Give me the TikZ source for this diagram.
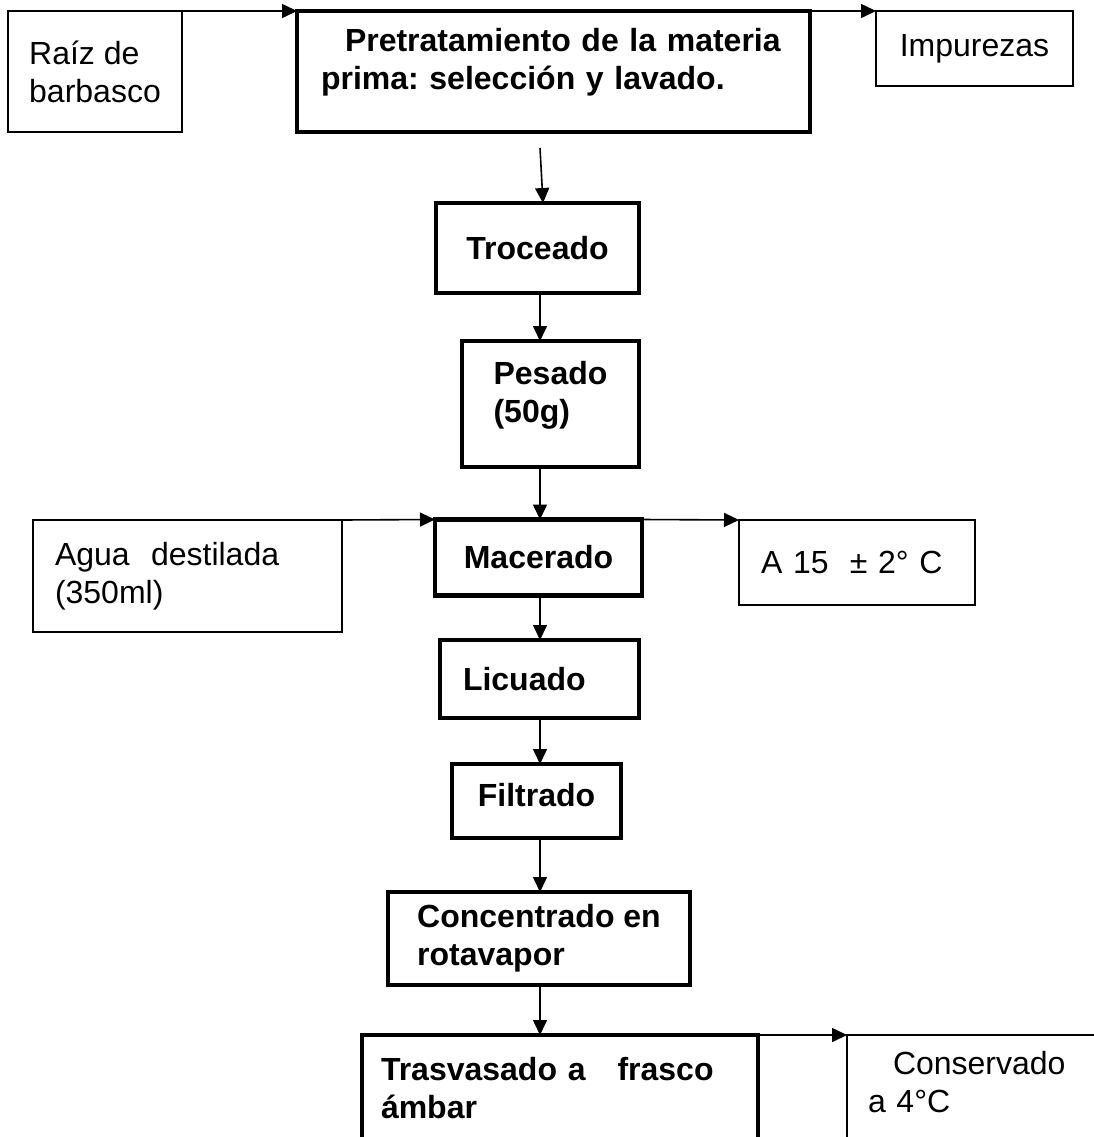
\documentclass[tikz,border=0pt]{standalone}
\usepackage{fontspec}
\setmainfont{Liberation Sans}
\usepackage{tikz}
\usetikzlibrary{arrows.meta}
\frenchspacing
\tikzstyle{inbox}=[draw, line width=1.8pt, outer sep=0pt, inner sep=0pt, align=left, font=\fontsize{32}{38}\selectfont]
\tikzstyle{process}=[draw, line width=4.5pt, outer sep=0pt, inner sep=0pt, align=left, font=\fontsize{32}{38}\selectfont\bfseries]
\tikzstyle{flow}=[line width=1.6pt, -{Triangle[length=15pt,width=14pt]}]

\begin{document}
\begin{tikzpicture}[x=1pt, y=-1pt]
\clip (0,0) rectangle (1094,1137);
\coordinate (spine) at (540,0);
\coordinate (spine2) at (543,0);

\node[inbox, minimum width=174pt, minimum height=121pt] (raiz) at (95,71.5) {Raíz de\\barbasco};
\node[process, text width=465pt, inner xsep=24pt, minimum height=121pt, text depth=64pt] (pretrat) at (553.5,71.5) {\hspace*{24pt}Pretratamiento de la materia\\prima: selección\ y\ lavado.};
\node[inbox, minimum width=197pt, minimum height=75pt] (impur) at (974.5,48.5) {Impurezas};

\node[process, minimum width=203pt, minimum height=90pt] (troc) at (537.5,248) {Troceado};
\node[process, minimum width=177pt, minimum height=126pt, text depth=25pt] (pesado) at (550.5,404) {Pesado\\(50g)};

\node[inbox, text width=265pt, inner xsep=22pt, minimum height=112pt] (agua) at (187.5,576) {Agua\ \ destilada\\(350ml)};
\node[process, minimum width=207pt, minimum height=76pt] (mac) at (538.5,557.5) {Macerado};
\node[inbox, text width=192pt, inner xsep=22pt, minimum height=85pt] (temp) at (857,562.5) {A 15\ \ ± 2° C};

\node[process, text width=153pt, inner xsep=23pt, minimum height=78pt] (licu) at (539.5,679) {Licuado};
\node[process, minimum width=169pt, minimum height=74pt, text depth=12pt] (filt) at (536.5,801) {Filtrado};
\node[process, minimum width=302pt, minimum height=93pt] (conc) at (539,938.5) {Concentrado en\\rotavapor};

\node[process, text width=358pt, inner xsep=19pt, minimum height=120pt, text depth=52pt] (tras) at (560,1095) {Trasvasado a\ \ \ frasco\\ámbar};
\node[inbox, text width=218pt, inner xsep=21pt, minimum height=120pt, text depth=64pt] (cons) at (977,1095) {\hspace*{25pt}Conservado\\a 4°C};

% entradas y salidas laterales
\draw[flow] (raiz.north east) -- (pretrat.north west);
\draw[flow] (pretrat.north east) -- (impur.north west);
\draw[flow] (agua.north east) -- (mac.north west);
\draw[flow] (mac.north east) -- (temp.north west);
\draw[flow] (tras.north east) -- (cons.north west);

% linea principal
\coordinate (cut) at (540,148);
\draw[flow] (cut) -- (troc.north -| spine2);
\foreach \a/\b in {troc/pesado, pesado/mac, mac/licu, licu/filt, filt/conc, conc/tras}
  \draw[flow] (\a.south -| spine) -- (\b.north -| spine);
\end{tikzpicture}
\end{document}
